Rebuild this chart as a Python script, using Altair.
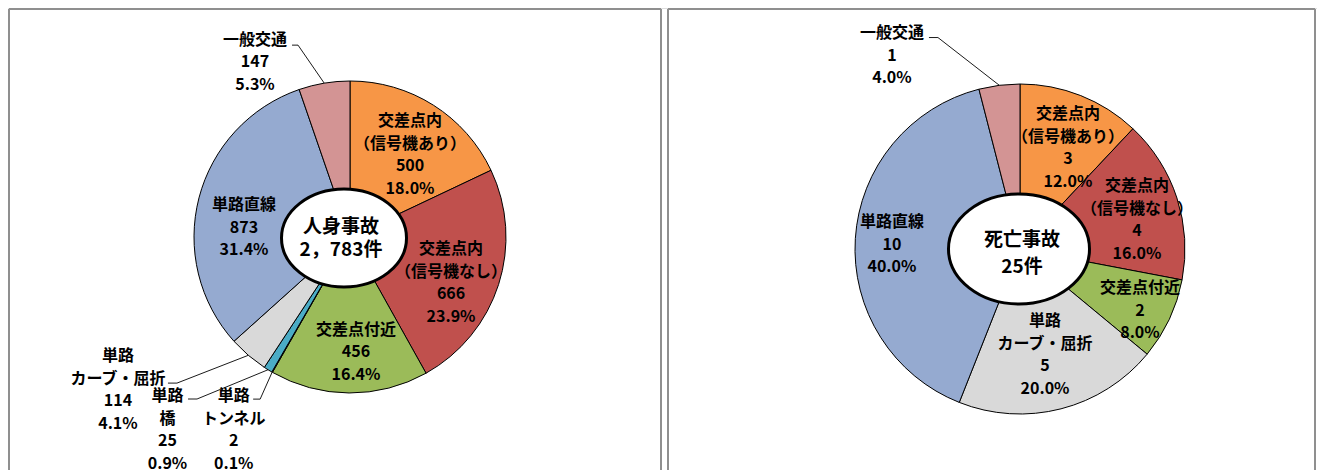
import numpy as np
import pandas as pd
import altair as alt

# ---------------- data ----------------
categories_left = ["交差点内（信号機あり）", "交差点内（信号機なし）", "交差点付近", "単路トンネル",
                   "単路橋", "単路カーブ・屈折", "単路直線", "一般交通"]
label_names_left = ["交差点内\n（信号機あり）", "交差点内\n（信号機なし）", "交差点付近", "単路\nトンネル",
                    "単路\n橋", "単路\nカーブ・屈折", "単路直線", "一般交通"]
values_left = [500, 666, 456, 2, 25, 114, 873, 147]
percents_left = ["18.0%", "23.9%", "16.4%", "0.1%", "0.9%", "4.1%", "31.4%", "5.3%"]
center_left = "人身事故\n2，783件"

categories_right = ["交差点内（信号機あり）", "交差点内（信号機なし）", "交差点付近", "単路カーブ・屈折",
                    "単路直線", "一般交通"]
label_names_right = ["交差点内\n（信号機あり）", "交差点内\n（信号機なし）", "交差点付近", "単路\nカーブ・屈折",
                     "単路直線", "一般交通"]
values_right = [3, 4, 2, 5, 10, 1]
percents_right = ["12.0%", "16.0%", "8.0%", "20.0%", "40.0%", "4.0%"]
center_right = "死亡事故\n25件"

color_domain = ["交差点内（信号機あり）", "交差点内（信号機なし）", "交差点付近", "単路トンネル",
                "単路橋", "単路カーブ・屈折", "単路直線", "一般交通"]
color_range = ["#F79646", "#C0504D", "#9BBB59", "#8064A2", "#4BACC6", "#D9D9D9", "#95AAD0", "#D39494"]

# ---------------- layout ----------------
W, H = 1309, 462
FONT = "Noto Sans CJK JP"
LABEL_LH = 22.5

pies = {
    "left": dict(cx=342, cy=229, R=156, ex=336, ey=230, ew=125, eratio=0.784,
                 tx=333, ty=230.5, lh=23),
    "right": dict(cx=1012, cy=241, R=165, ex=1011, ey=241, ew=141, eratio=0.78,
                  tx=1014, ty=245.5, lh=27),
}
# per-label placement: (radius from pie centre, angle nudge in degrees from slice mid-angle)
place_left = [(101.6, 3.9), (111, 6.7), (115.2, -3.3), (225.4, 1.1),
              (265.6, 11.7), (278, 15.9), (106.4, -9.4), (199, -19)]
place_right = [(111.8, 3.8), (120.5, 4.1), (135, 2.1), (108.9, 1.1), (128.1, -1.8), (232, -26.3)]
# leader lines: label index -> (end offset, knee offset) relative to label block centre
leaders_left = {7: ((37, -17), (43, -17)), 5: ((50, -7), (59, -7)),
                4: ((20.5, -31), (29.5, -31)), 3: ((19.4, -31), (26.4, -31))}
leaders_right = {5: ((37, -18), (46, -18))}

frame_segments = [
    (1, 1, 653, 1), (1, 1, 1, H), (653, 1, 653, H),
    (660, 1, 1307, 1), (660, 1, 660, H), (1307, 1, 1307, H),
]

xs = alt.Scale(domain=[0, W], nice=False, zero=False)
ys = alt.Scale(domain=[0, H], nice=False, zero=False, reverse=True)


def mids(values):
    v = np.asarray(values, dtype=float)
    frac = v / v.sum() * 360.0
    end = np.cumsum(frac)
    return end - frac / 2.0


def polar(cx, cy, r, ang):
    a = np.deg2rad(ang)
    return cx + r * np.sin(a), cy - r * np.cos(a)


def first_line_y(block_centre_y, text, lh):
    n = text.count("\n") + 1
    return block_centre_y - (n - 1) * lh / 2.0


layers = []

# frame
frame_df = pd.DataFrame(frame_segments, columns=["x", "y", "x2", "y2"])
layers.append(
    alt.Chart(frame_df).mark_rule(color="#8f8f8f", strokeWidth=2).encode(
        x=alt.X("x:Q", scale=xs, axis=None), y=alt.Y("y:Q", scale=ys, axis=None),
        x2="x2:Q", y2="y2:Q")
)

label_rows = []
leader_rows = []
centre_layers = []

for key, cats, names, vals, pcts, places, leaders, ctext in [
    ("left", categories_left, label_names_left, values_left, percents_left, place_left, leaders_left, center_left),
    ("right", categories_right, label_names_right, values_right, percents_right, place_right, leaders_right, center_right),
]:
    p = pies[key]
    df = pd.DataFrame({"category": cats, "value": vals, "idx": list(range(len(vals)))})
    layers.append(
        alt.Chart(df).mark_arc(radius=p["R"], stroke="black", strokeWidth=1).encode(
            theta=alt.Theta("value:Q", stack=True),
            color=alt.Color("category:N", scale=alt.Scale(domain=color_domain, range=color_range), legend=None),
            order=alt.Order("idx:Q"),
            x=alt.X(datum=p["cx"], type="quantitative", scale=xs, axis=None),
            y=alt.Y(datum=p["cy"], type="quantitative", scale=ys, axis=None),
        )
    )
    m = mids(vals)
    for i, (name, v, pc) in enumerate(zip(names, vals, pcts)):
        r, da = places[i]
        lx, ly = polar(p["cx"], p["cy"], r, m[i] + da)
        text = f"{name}\n{v}\n{pc}"
        label_rows.append({"x": lx, "y": first_line_y(ly, text, LABEL_LH), "text": text})
        if i in leaders:
            (ex_, ey_), (kx, ky) = leaders[i]
            sx, sy = polar(p["cx"], p["cy"], p["R"], m[i])
            lid = f"{key}-{i}"
            leader_rows += [
                {"id": lid, "o": 0, "x": lx + ex_, "y": ly + ey_},
                {"id": lid, "o": 1, "x": lx + kx, "y": ly + ky},
                {"id": lid, "o": 2, "x": sx, "y": sy},
            ]
    # centre ellipse
    rr = p["eratio"]
    shape = f"M -1 0 A 1 {rr} 0 1 1 1 0 A 1 {rr} 0 1 1 -1 0 Z"
    centre_layers.append(
        alt.Chart(pd.DataFrame({"x": [p["ex"]], "y": [p["ey"]]})).mark_point(
            shape=shape, size=p["ew"] ** 2, filled=True, fill="white", stroke="black",
            strokeWidth=3, opacity=1, fillOpacity=1, strokeOpacity=1).encode(
            x=alt.X("x:Q", scale=xs, axis=None), y=alt.Y("y:Q", scale=ys, axis=None))
    )
    centre_layers.append(
        alt.Chart(pd.DataFrame({"x": [p["tx"]], "y": [first_line_y(p["ty"], ctext, p["lh"])],
                                "text": [ctext]})).mark_text(
            font=FONT, fontSize=19, fontWeight="bold", lineBreak="\n", lineHeight=p["lh"],
            align="center", baseline="middle", color="black").encode(
            x=alt.X("x:Q", scale=xs, axis=None), y=alt.Y("y:Q", scale=ys, axis=None), text="text:N")
    )

leader_df = pd.DataFrame(leader_rows)
layers.append(
    alt.Chart(leader_df).mark_line(color="black", strokeWidth=0.9).encode(
        x=alt.X("x:Q", scale=xs, axis=None), y=alt.Y("y:Q", scale=ys, axis=None),
        detail="id:N", order="o:Q")
)
layers += centre_layers

label_df = pd.DataFrame(label_rows)
layers.append(
    alt.Chart(label_df).mark_text(
        font=FONT, fontSize=16, fontWeight="bold", lineBreak="\n", lineHeight=LABEL_LH,
        align="center", baseline="middle", color="black").encode(
        x=alt.X("x:Q", scale=xs, axis=None), y=alt.Y("y:Q", scale=ys, axis=None), text="text:N")
)

chart = alt.layer(*layers).resolve_scale(theta="independent").properties(
    width=W, height=H, padding=0,
    autosize=alt.AutoSizeParams(type="none"),
).configure_view(stroke=None).configure(background="white")

chart.save("out.html", embed_options={"renderer": "svg", "actions": False})
